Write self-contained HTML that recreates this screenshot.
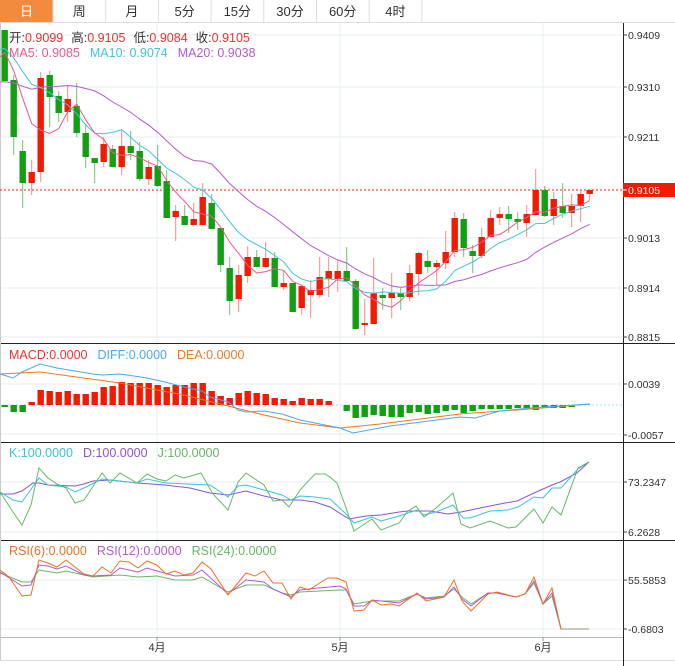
<!DOCTYPE html>
<html><head><meta charset="utf-8"><style>
html,body{margin:0;padding:0;background:#fff;width:675px;height:666px;overflow:hidden}
svg{display:block;font-family:"Liberation Sans","Noto Sans CJK SC",sans-serif}
</style></head><body>
<svg id="s" width="675" height="666" xmlns="http://www.w3.org/2000/svg"></svg>
<script>
const s=document.getElementById('s');let h='';
// tabs
h+='<rect x="0" y="0" width="675" height="22" fill="#fff"/><line x1="0" y1="22.5" x2="675" y2="22.5" stroke="#ddd"/>';
const tabs=['日','周','月','5分','15分','30分','60分','4时'];
tabs.forEach((t,i)=>{const x=i*52.7;if(i==0)h+=`<rect x="0" y="0" width="53" height="22" fill="#f38b3f"/>`;
h+=`<line x1="${x+53}" y1="0" x2="${x+53}" y2="22" stroke="#ddd"/>`;
h+=`<text x="${x+26.5}" y="16" font-size="13" text-anchor="middle" fill="${i==0?'#fff':'#333'}">${t}</text>`;});
// grids
const hg=[35,87,137,188,238,288,337,384,434,482,532,580,629];
hg.forEach(y=>h+=`<line x1="0" y1="${y}" x2="622" y2="${y}" stroke="#e6edf2"/>`);
[157,340,543].forEach(x=>h+=`<line x1="${x}" y1="23" x2="${x}" y2="637" stroke="#e8eff3"/>`);
// panel borders
h+='<line x1="0" y1="343.5" x2="675" y2="343.5" stroke="#222"/><line x1="0" y1="442.5" x2="675" y2="442.5" stroke="#222"/><line x1="0" y1="540.5" x2="675" y2="540.5" stroke="#222"/>';
h+='<line x1="0" y1="637.5" x2="623" y2="637.5" stroke="#bbb"/><line x1="0" y1="660.5" x2="675" y2="660.5" stroke="#ddd"/>';
h+='<line x1="623.5" y1="23" x2="623.5" y2="666" stroke="#222"/><line x1="0.5" y1="23" x2="0.5" y2="660" stroke="#ccc"/>';
// y labels
const yl=[[35,'0.9409'],[87,'0.9310'],[137,'0.9211'],[238,'0.9013'],[288,'0.8914'],[337,'0.8815'],[384,'0.0039'],[435,'-0.0057'],[482,'73.2347'],[532,'6.2628'],[580,'55.5853'],[629,'-0.6803']];
yl.forEach(([y,t])=>{h+=`<line x1="623" y1="${y}" x2="627" y2="${y}" stroke="#444"/><text x="628" y="${y+4}" font-size="10.5" fill="#333">${t}</text>`;});
// candles [type,top,bottom,high,low]
const C=[['G',30,81,30,81],['G',80,137,75,155],['G',151,183,140,208],['R',172,183,160,195],['R',78,172,72,182],['G',75,97,71,127],['G',96,113,91,122],['R',99,112,85,122],['G',106,133,83,137],['G',133,157,124,168],['G',158,163,158,183],['R',144,162,137,167],['G',149,167,145,167],['R',146,167,130,175],['G',146,153,131,160],['G',151,179,142,181],['R',167,179,160,185],['G',166,186,145,187],['G',181,218,170,218],['R',211,217,205,241],['G',216,225,205,225],['R',219,225,203,225],['R',197,225,183,225],['G',203,229,194,229],['G',228,265,228,272],['G',268,301,257,315],['R',275,299,265,312],['R',257,276,246,283],['G',257,267,250,267],['R',258,267,242,267],['G',258,287,252,287],['R',283,287,270,290],['G',283,312,283,312],['R',286,308,286,315],['R',290,295,280,318],['R',277,295,257,298],['R',271,279,257,297],['R',271,279,260,292],['G',271,281,247,281],['G',281,329,279,329],['R',323,325,299,335],['R',293,324,258,324],['G',295,298,288,310],['R',293,298,273,318],['G',293,297,288,310],['R',273,297,265,301],['R',253,274,252,295],['G',261,267,250,273],['R',263,267,260,285],['R',252,263,231,269],['R',218,252,212,257],['G',219,248,213,257],['G',251,256,245,273],['R',237,256,228,258],['R',218,237,210,238],['R',214,218,207,225],['G',214,219,206,233],['G',219,222,212,230],['R',214,223,205,237],['R',190,215,169,215],['G',190,216,186,217],['R',199,216,192,225],['G',206,213,183,218],['R',206,213,194,227],['R',194,206,189,222],['R',190,194,190,200]];
const X=i=>4.7+9*i;
const closes=C.map(c=>c[0]=='R'?c[1]:c[2]);
// current price line
h+='<line x1="0" y1="190" x2="622" y2="190" stroke="#f02010" stroke-dasharray="2,2"/>';
C.forEach((c,i)=>{const x=X(i);const col=c[0]=='R'?'#f21a00':'#12a012';const wc=c[0]=='R'?'#f78a80':'#72c472';
h+=`<line x1="${x}" y1="${c[3]}" x2="${x}" y2="${c[4]}" stroke="${wc}"/>`;
h+=`<rect x="${x-3.2}" y="${c[1]}" width="6.4" height="${Math.max(1.5,c[2]-c[1])}" fill="${col}"/>`;});
// MAs
const pre=[];for(let k=0;k<10;k++)pre.push(115);for(let k=0;k<9;k++)pre.push(45);
const all=pre.concat(closes);
function ma(n){const p=[];for(let i=0;i<C.length;i++){let t=0;for(let k=0;k<n;k++)t+=all[i+19-k];p.push([X(i),t/n]);}return p;}
const pl=(pts,col,w)=>`<polyline points="${pts.map(p=>p[0].toFixed(1)+','+p[1].toFixed(1)).join(' ')}" fill="none" stroke="${col}" stroke-width="${w||1}"/>`;
const m5=ma(5);m5.unshift([0,57]);const m10=ma(10);m10.unshift([0,49]);const m20=ma(20);m20.unshift([0,82]);
h+=pl(m20,'#b55ad0')+pl(m10,'#3ec6dc')+pl(m5,'#ec5a8c');
// price tag
h+='<rect x="623" y="183" width="52" height="14" fill="#f21a00"/><text x="628" y="194" font-size="10.5" fill="#fff">0.9105</text><line x1="623" y1="190" x2="627" y2="190" stroke="#fff"/>';
// legends
h+='<rect x="2" y="26" width="380" height="30" fill="rgba(255,255,255,0.0)"/>';
h+='<text x="9" y="42" font-size="12.5"><tspan fill="#333">开:</tspan><tspan fill="#f03030">0.9099</tspan><tspan fill="#333" dx="8">高:</tspan><tspan fill="#f03030">0.9105</tspan><tspan fill="#333" dx="8">低:</tspan><tspan fill="#f03030">0.9084</tspan><tspan fill="#333" dx="8">收:</tspan><tspan fill="#f03030">0.9105</tspan></text>';
h+='<text x="9" y="57" font-size="12.5"><tspan fill="#ec5a8c">MA5: 0.9085</tspan><tspan fill="#3ec6dc" dx="10">MA10: 0.9074</tspan><tspan fill="#b55ad0" dx="10">MA20: 0.9038</tspan></text>';
// MACD
h+='<line x1="0" y1="405" x2="622" y2="405" stroke="#a8dcec" stroke-dasharray="2,2"/>';
const MR=[407,412,412,402,390,391,392,391,394,394,392,387,386,382,383,383,383,385,387,385,385,383,383,391,396,398,393,391,393,394,398,399,401,398,399,399,401,405,411,418,417,415,416,417,417,413,412,414,413,411,410,413,411,409,409,409,409,408,408,410,408,408,408,407,405,405];
MR.forEach((y,i)=>{if(Math.abs(y-405)<0.5)return;const x=X(i);const col=y<405?'#f21a00':'#12a012';const t=Math.min(y,405),hh=Math.abs(y-405);h+=`<rect x="${x-3.2}" y="${t}" width="6.4" height="${hh}" fill="${col}"/>`;});
h+=pl([[0,374],[40,372],[120,383],[184,395],[228,406],[264,415],[300,423],[340,428],[380,424],[460,414],[530,409],[590,404]],'#f07820');
h+=pl([[0,374],[13,378],[22,372],[40,364],[57,368],[75,371],[93,374],[102,375],[120,374],[147,378],[165,382],[184,387],[202,391],[210,397],[228,402],[238,410],[246,412],[264,411],[282,414],[300,420],[340,428],[353,433],[390,426],[460,417],[475,418],[500,411],[530,408],[560,406],[590,404]],'#4aa8f0');
h+='<text x="9" y="359" font-size="12.5"><tspan fill="#f03030">MACD:0.0000</tspan><tspan fill="#4aa8f0" dx="10">DIFF:0.0000</tspan><tspan fill="#f07820" dx="10">DEA:0.0000</tspan></text>';
// KDJ
h+=pl([[0,494],[13,494],[22,491],[33,483],[39,483],[48,485],[75,486],[84,484],[93,481],[110,480],[137,483],[165,485],[190,488],[210,493],[228,495],[246,491],[264,496],[282,500],[300,500],[315,502],[330,507],[349,519],[366,516],[381,515],[399,512],[408,511],[430,511],[448,514],[461,512],[480,508],[505,503],[517,501],[534,493],[552,485],[560,482],[577,473],[589,462]],'#8a55d6');
h+=pl([[0,492],[13,500],[22,502],[39,478],[48,485],[66,487],[75,492],[84,488],[102,479],[110,480],[137,483],[147,479],[166,483],[210,485],[228,497],[238,486],[246,485],[264,490],[282,495],[291,500],[300,496],[315,497],[330,499],[345,513],[354,523],[372,517],[381,521],[399,516],[417,510],[424,515],[436,512],[453,505],[463,518],[470,518],[490,511],[508,510],[518,507],[534,497],[543,498],[552,488],[561,488],[578,469],[589,462]],'#38c4dc');
h+=pl([[0,492],[13,512],[22,525],[31,505],[39,468],[48,478],[57,484],[66,488],[75,503],[84,500],[102,473],[110,483],[120,473],[137,483],[147,474],[157,479],[166,481],[175,475],[184,478],[201,473],[213,494],[228,510],[238,482],[246,473],[264,485],[273,501],[282,500],[289,507],[300,490],[315,474],[325,474],[330,477],[337,483],[345,505],[354,531],[372,519],[381,530],[399,523],[408,511],[416,506],[424,517],[436,508],[453,493],[461,524],[470,528],[490,521],[508,528],[516,527],[534,509],[543,523],[552,507],[561,515],[578,468],[589,462]],'#66b866');
h+='<text x="9" y="457" font-size="12.5"><tspan fill="#38c4dc">K:100.0000</tspan><tspan fill="#8a55d6" dx="10">D:100.0000</tspan><tspan fill="#66b866" dx="10">J:100.0000</tspan></text>';
// RSI
h+=pl([[0,573],[22,582],[31,582],[39,570],[57,573],[66,571],[93,577],[120,575],[138,577],[157,576],[175,580],[193,580],[202,577],[228,592],[246,585],[264,585],[282,593],[291,595],[300,592],[340,590],[346,590],[354,604],[372,601],[399,601],[417,594],[426,598],[444,596],[454,589],[462,597],[471,604],[488,593],[497,593],[516,597],[525,594],[534,583],[543,604],[552,596],[561,629],[589,629]],'#66b866');
h+=pl([[0,572],[22,586],[31,585],[39,565],[48,566],[57,569],[66,566],[84,575],[93,576],[111,575],[120,568],[138,572],[147,568],[157,571],[175,576],[193,575],[202,570],[228,594],[246,580],[264,582],[273,589],[291,597],[300,590],[318,588],[340,586],[346,589],[354,606],[364,606],[372,600],[399,603],[417,594],[426,599],[444,597],[454,587],[462,599],[471,606],[488,593],[497,593],[516,597],[525,594],[534,581],[543,604],[552,593],[561,629],[589,629]],'#b55ad0');
h+=pl([[0,570],[9,577],[22,596],[31,595],[39,560],[48,563],[57,567],[66,560],[84,574],[93,576],[102,567],[111,573],[120,561],[129,562],[138,568],[147,561],[157,565],[166,574],[175,571],[184,575],[193,573],[202,562],[211,569],[228,595],[246,573],[255,576],[264,571],[273,583],[282,583],[291,599],[300,587],[309,590],[318,584],[328,578],[337,578],[346,582],[354,611],[364,610],[372,600],[381,605],[391,604],[399,606],[417,593],[426,601],[435,599],[444,597],[454,580],[462,601],[471,611],[488,594],[497,592],[516,597],[525,594],[534,577],[543,604],[552,588],[561,629],[589,629]],'#f07020');
h+='<line x1="562" y1="629" x2="589" y2="629" stroke="#b8b4a0" stroke-width="1.5"/>';
h+='<text x="9" y="555" font-size="12.5"><tspan fill="#f07020">RSI(6):0.0000</tspan><tspan fill="#b55ad0" dx="10">RSI(12):0.0000</tspan><tspan fill="#66b866" dx="10">RSI(24):0.0000</tspan></text>';
// x labels
[[157,'4月'],[340,'5月'],[543,'6月']].forEach(([x,t])=>h+=`<line x1="${x}" y1="637" x2="${x}" y2="641" stroke="#999"/><text x="${x}" y="651" font-size="11" text-anchor="middle" fill="#333">${t}</text>`);
s.innerHTML=h;
</script>
</body></html>
